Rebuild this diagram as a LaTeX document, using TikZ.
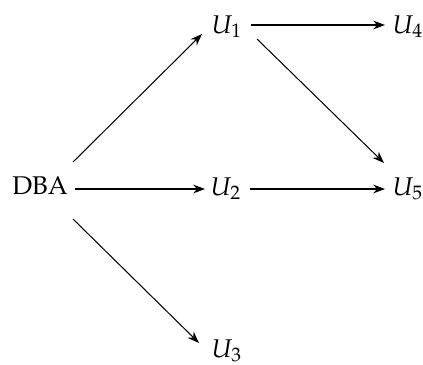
\documentclass[tikz,border=0pt]{standalone}
\usepackage{mathpazo}
\usetikzlibrary{arrows.meta,calc}
\begin{document}
\begin{tikzpicture}[x=0.39pt,y=-0.39pt,
  lbl/.style={inner sep=0pt,anchor=base,font=\fontencoding{T1}\fontfamily{ppl}\selectfont},
  arr/.style={-{Stealth[length=4.6pt,width=3.4pt]},line width=0.4pt}]
\useasboundingbox (0,0) rectangle (423,364);
\node[lbl] (dba) at (40,194) {DBA};
\node[lbl] (u1) at (227,33) {$U_1$};
\node[lbl] (u4) at (408,33) {$U_4$};
\node[lbl] (u2) at (226,195) {$U_2$};
\node[lbl] (u5) at (408,195) {$U_5$};
\node[lbl] (u3) at (227,357) {$U_3$};
\draw[arr] ($(dba.base)+(33,-32)$) -- ($(u1.base)+(-25,1)$);
\draw[arr] ($(dba.base)+(35,-5)$) -- ($(u2.base)+(-21,-6)$);
\draw[arr] ($(dba.base)+(33,25)$) -- ($(u3.base)+(-28,-14)$);
\draw[arr] ($(u1.base)+(24,-8)$) -- ($(u4.base)+(-23,-8)$);
\draw[arr] ($(u1.base)+(30,6)$) -- ($(u5.base)+(-24,-32)$);
\draw[arr] ($(u2.base)+(24,-6)$) -- ($(u5.base)+(-23,-6)$);
\end{tikzpicture}
\end{document}
